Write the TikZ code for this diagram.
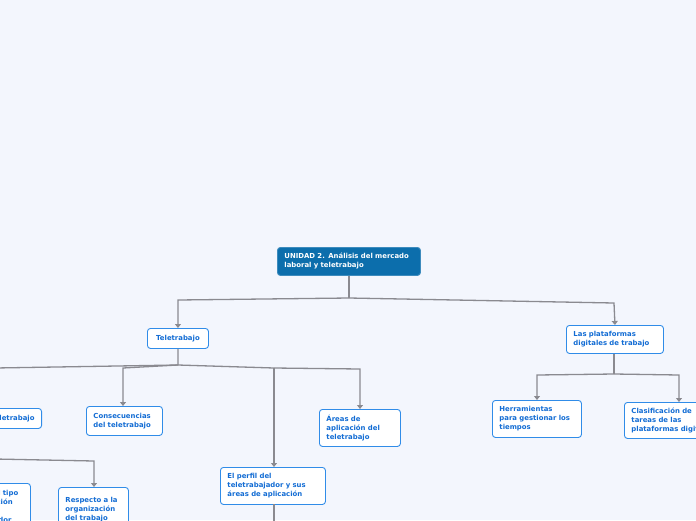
\documentclass[tikz,border=0pt]{standalone}
\usepackage{fontspec}
\setmainfont{DejaVu Sans}
\usetikzlibrary{arrows.meta,positioning,calc}
\definecolor{MMbg}{RGB}{243,246,253}
\definecolor{MMroot}{RGB}{12,110,172}
\definecolor{MMblue}{RGB}{48,140,232}
\definecolor{MMtext}{RGB}{18,108,212}
\definecolor{MMgrey}{RGB}{138,138,144}

\begin{document}
\begin{tikzpicture}[
      x=1pt,y=-1pt,
      topic/.style={draw=MMblue,line width=0.9pt,fill=white,rounded corners=3pt,anchor=north west,
        align=left,inner xsep=7pt,inner ysep=3pt,text=MMtext,
        font=\fontsize{6.9}{9}\selectfont\bfseries},
      mainbox/.style={topic,draw=MMroot!80,fill=MMroot,text=white},
      link/.style={draw=MMgrey,line width=1.3pt,-{Triangle[width=6pt,length=4pt]}},
      trunk/.style={draw=MMgrey,line width=1.3pt}
    ]
    \fill[MMbg] (0,0) rectangle (696,520);
    \clip (0,0) rectangle (696,520);
    % nodes
    \node[mainbox,text width=129pt,minimum height=28pt] (root) at (277,247) {UNIDAD 2. Análisis del mercado\\laboral y teletrabajo};
    \node[topic,align=center,minimum width=61pt,minimum height=20pt] (tele) at (147,328) {Teletrabajo};
    \node[topic,text width=83pt,minimum height=28pt] (plat) at (566,325) {Las plataformas\\digitales de trabajo};
    \node[topic,anchor=north east,minimum height=20pt] (tipos) at (42,408) {Tipos de teletrabajo};
    \node[topic,text width=62pt,minimum height=29pt] (cons) at (86,406) {Consecuencias\\del teletrabajo};
    \node[topic,text width=67pt,minimum height=37pt] (areas) at (319,409) {Áreas de\\aplicación del\\teletrabajo};
    \node[topic,text width=91pt,minimum height=37pt] (perfil) at (220,467) {El perfil del\\teletrabajador y sus\\áreas de aplicación};
    \node[topic,text width=75pt,minimum height=37pt] (herr) at (492,400) {Herramientas\\para gestionar los\\tiempos};
    \node[topic,text width=95pt,minimum height=36pt] (clas) at (624,402) {Clasificación de\\tareas de las\\plataformas digitales};
    \node[topic,text width=68pt,minimum height=48pt] (ubic) at (-52,483) {Respecto al tipo\\de localización\\del\\teletrabajador};
    \node[topic,text width=56pt,minimum height=44pt] (resp) at (58,487) {Respecto a la\\organización\\del trabajo};
    % junctions
    \coordinate (rootj) at (349,298);
    \coordinate (telej) at (178,365);
    \coordinate (perfj) at (274,368);
    \coordinate (platj) at (614,374);
    \coordinate (tipj) at (-5,459);
    % connectors
    \draw[trunk] (root.south -| rootj) -- (rootj);
    \draw[link] (rootj) -- (178,300) -- (tele.north);
    \draw[link] (rootj) -- (614,303) -- (plat.north);
    \draw[trunk] (tele.south) -- (telej);
    \draw[link] (telej) -- (-5,368) -- (tipos.north);
    \draw[link] (telej) -- (123,368) -- (123,406);
    \draw[trunk] (telej) -- (perfj);
    \draw[link] (perfj) -- (274,467);
    \draw[link] (perfj) -- (360,369) -- (360,409);
    \draw[trunk] (plat.south -| platj) -- (platj);
    \draw[link] (platj) -- (537,375) -- (537,400);
    \draw[link] (platj) -- (679,375) -- (679,402);
    \draw[trunk] (tipos.south) -- (tipj);
    \draw[link] (tipj) -- (94,461) -- (94,487);
    \draw[trunk] (274,504) -- (274,530);
  \end{tikzpicture}
\end{document}
